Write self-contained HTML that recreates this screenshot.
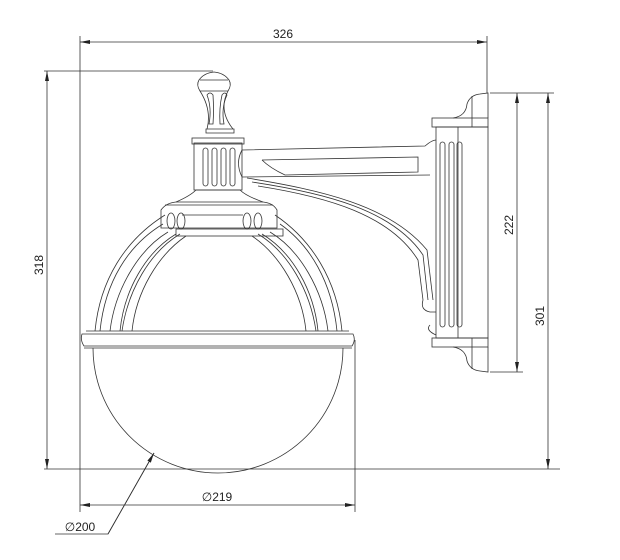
<!DOCTYPE html>
<html><head><meta charset="utf-8"><style>
html,body{margin:0;padding:0;background:#fff;}
svg{display:block;}
text{font-family:"Liberation Sans",sans-serif;font-size:12px;fill:#222;}
</style></head><body>
<svg width="620" height="560" viewBox="0 0 620 560" xmlns="http://www.w3.org/2000/svg">
<defs>
<marker id="a" viewBox="0 0 10 4" refX="10" refY="2" markerWidth="10" markerHeight="4" orient="auto-start-reverse" markerUnits="userSpaceOnUse"><path d="M0,0L10,2L0,4z" fill="#222"/></marker>
</defs>
<g fill="none" stroke="#333" stroke-width="0.8">
<line x1="80" y1="36" x2="80" y2="512"/>
<line x1="487" y1="36" x2="487" y2="93"/>
<line x1="80" y1="42" x2="487" y2="42" marker-start="url(#a)" marker-end="url(#a)"/>
<line x1="44" y1="71" x2="213" y2="71"/>
<line x1="44" y1="469" x2="560" y2="469"/>
<line x1="47" y1="71" x2="47" y2="469" marker-start="url(#a)" marker-end="url(#a)"/>
<line x1="490" y1="93" x2="554" y2="93"/>
<line x1="490" y1="372" x2="523" y2="372"/>
<line x1="517" y1="93" x2="517" y2="372" marker-start="url(#a)" marker-end="url(#a)"/>
<line x1="548" y1="93" x2="548" y2="469" marker-start="url(#a)" marker-end="url(#a)"/>
<line x1="355" y1="340" x2="355" y2="512"/>
<line x1="80" y1="505" x2="355" y2="505" marker-start="url(#a)" marker-end="url(#a)"/>
<polyline points="55,534 108,534 154,453" />
<line x1="108" y1="534" x2="154" y2="453" marker-end="url(#a)"/>

<path d="M93,348 A125,125 0 0 0 343,348"/>
<path d="M82,334 Q80,340 84,346 L352,346 Q356,340 353,334 Z"/>
<line x1="86" y1="331" x2="349" y2="331"/>
<line x1="84" y1="348" x2="352" y2="348"/>
<path d="M95,331 C100,280 125,240 165,215"/>
<path d="M342,331 C337,280 312,240 275,215"/>
<path d="M100,331 C105,282 128,245 163,224"/>
<path d="M337,331 C332,282 310,245 280,224"/>
<path d="M110,331 C115,290 138,250 168,232"/><path d="M120,331 C124,290 146,252 176,234"/>
<path d="M122,331 C128,290 150,252 180,234"/><path d="M132,331 C136,292 158,255 186,236"/>
<path d="M328,331 C323,290 300,250 270,232"/><path d="M318,331 C314,290 292,252 262,234"/>
<path d="M316,331 C310,290 288,252 258,234"/><path d="M306,331 C302,292 280,255 252,236"/>
<path d="M161,228 L161,210 Q166,203 176,202 L263,202 Q273,203 277,210 L277,228 Z"/>
<line x1="165" y1="205" x2="273" y2="205"/>
<line x1="182" y1="215" x2="243" y2="215"/>
<rect x="176" y="229" width="107" height="7"/>
<ellipse cx="171" cy="221" rx="4" ry="8"/><ellipse cx="181" cy="221" rx="4" ry="8"/>
<ellipse cx="247" cy="221" rx="4" ry="8"/><ellipse cx="258" cy="221" rx="4" ry="8"/>
<path d="M176,202 Q190,196 196,190 L240,190 Q246,196 263,202"/>
<rect x="194" y="143" width="48" height="47"/>
<rect x="192" y="138" width="52" height="6"/>
<rect x="203" y="148" width="5" height="38" rx="2.5"/><rect x="212" y="148" width="5" height="38" rx="2.5"/>
<rect x="221" y="148" width="5" height="38" rx="2.5"/><rect x="230" y="148" width="5" height="38" rx="2.5"/>
<path d="M206,133 L234,133 L234,129 L206,129 Z"/>
<path d="M207,129 Q212,110 200,91 L228,91 Q218,110 233,129"/>
<path d="M200,91 Q196,85 199,80 Q204,73 214,72 Q224,73 229,80 Q232,85 228,91"/>
<line x1="200" y1="80" x2="228" y2="80"/>
<path d="M209,124 Q212,108 207,95 Q210,91 213,95 Q214,110 213,124 Z"/>
<path d="M220,124 Q219,108 222,95 Q225,91 227,95 Q221,108 224,124 Z"/>
<path d="M242,150 L425,146 Q432,140 436,140"/>
<path d="M242,177 L430,175"/>
<path d="M262,160 L418,157 L418,172 L285,175 Q270,168 262,160"/>
<path d="M242,150 Q235,163 242,177"/>
<path d="M247,178 C320,190 390,205 427,250 L433,300"/>
<path d="M252,182 C325,193 393,210 423,255 L428,300"/>
<path d="M258,186 C328,197 390,215 418,260 L423,300"/>
<path d="M423,300 Q420,310 430,312 L436,312"/>
<path d="M430,325 Q425,330 436,335"/>
<rect x="436" y="127" width="52" height="211"/>
<line x1="458" y1="127" x2="458" y2="338"/>
<rect x="432" y="118" width="56" height="9"/>
<rect x="432" y="338" width="56" height="9"/>
<path d="M453,118 Q466,116 467,104 Q470,95 480,94 L488,93 L488,118"/>
<path d="M453,347 Q466,349 467,361 Q470,370 480,371 L488,372 L488,347"/>
<line x1="472" y1="96" x2="472" y2="127"/><line x1="472" y1="338" x2="472" y2="369"/>
<rect x="440" y="142" width="5" height="185" rx="2.5"/>
<rect x="449" y="142" width="5" height="185" rx="2.5"/>
<rect x="457" y="142" width="5" height="185" rx="2.5"/>
</g>
<text x="283" y="38" text-anchor="middle">326</text>
<text transform="translate(43,265) rotate(-90)" text-anchor="middle">318</text>
<text transform="translate(513,225) rotate(-90)" text-anchor="middle">222</text>
<text transform="translate(544,316) rotate(-90)" text-anchor="middle">301</text>
<text x="217" y="501" text-anchor="middle">∅219</text>
<text x="80" y="531" text-anchor="middle">∅200</text>
</svg>
</body></html>
